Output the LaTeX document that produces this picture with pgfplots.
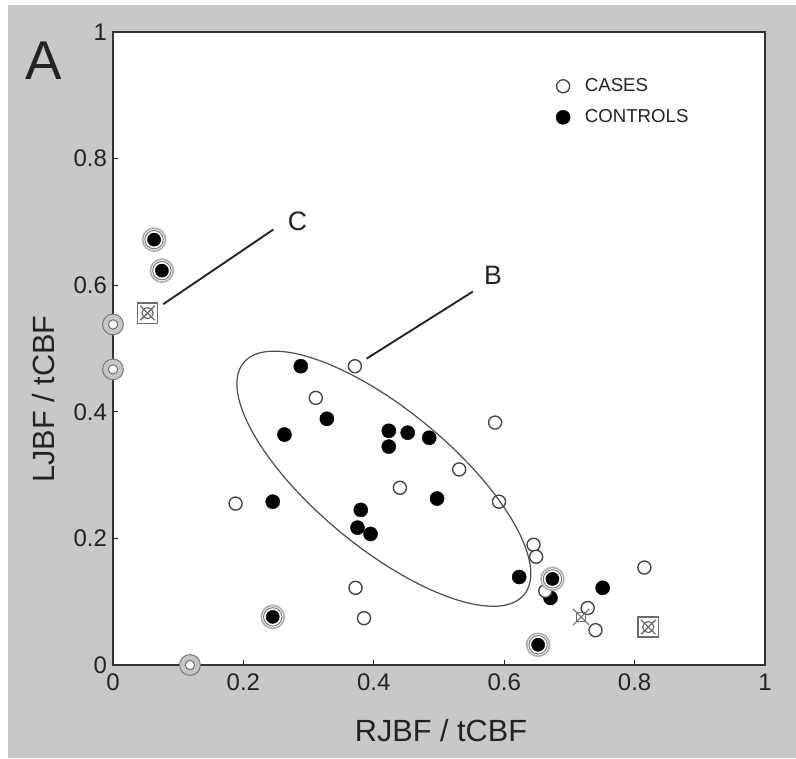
\documentclass[border=0pt]{standalone}
\usepackage{fontspec}
\setmainfont{Liberation Sans}
\usepackage{pgfplots}
\pgfplotsset{compat=1.18}
\usepackage{pgfplotstable}

\definecolor{panelgray}{RGB}{200,200,200}
\definecolor{ink}{RGB}{35,35,35}

% blood-flow ratios
\pgfplotstableread{
x y
0.371 0.472
0.311 0.422
0.188 0.255
0.586 0.383
0.531 0.309
0.440 0.280
0.592 0.258
0.645 0.190
0.649 0.171
0.372 0.122
0.385 0.074
0.815 0.154
0.663 0.117
0.728 0.090
0.740 0.055
}\cases
\pgfplotstableread{
x y
0.000 0.538
0.000 0.467
0.118 0.000
}\casesmarked
\pgfplotstableread{
x y
0.288 0.472
0.328 0.389
0.263 0.364
0.423 0.370
0.452 0.367
0.485 0.359
0.423 0.345
0.245 0.258
0.497 0.263
0.380 0.245
0.375 0.217
0.395 0.207
0.623 0.139
0.671 0.106
0.751 0.122
}\controls
\pgfplotstableread{
x y
0.063 0.672
0.075 0.623
0.245 0.076
0.674 0.136
0.652 0.032
}\controlsmarked
\pgfplotstableread{
x y
0.053 0.556
0.821 0.060
}\crossed
\pgfplotstableread{
x y
0.718 0.076
}\xcross

\begin{document}
\begin{tikzpicture}
% panel background
\fill[white] (-84.75pt,-69.75pt) rectangle (512.25pt,498.75pt);
\fill[panelgray] (-78.75pt,-69.75pt) rectangle (512.25pt,495pt);
\begin{axis}[
  at={(0,0)}, anchor=south west,
  scale only axis, width=489pt, height=474.75pt,
  xmin=0, xmax=1, ymin=0, ymax=1,
  xtick={0,0.2,0.4,0.6,0.8,1}, ytick={0,0.2,0.4,0.6,0.8,1},
  tick pos=left, tick align=inside,
  major tick length=4pt,
  tick style={line width=1pt, ink},
  axis line style={line width=1.6pt, black!80},
  axis background/.style={fill=white},
  /pgf/number format/assume math mode=true,
  ticklabel style={font=\fontsize{18}{20}\selectfont, text=ink},
  xticklabel style={yshift=-3pt},
  yticklabel style={xshift=-1pt},
  xlabel={RJBF / tCBF}, ylabel={LJBF / tCBF},
  xlabel style={at={(axis cs:0.503,-0.103)}, anchor=center, font=\fontsize{23}{26}\selectfont, text=ink},
  ylabel style={at={(axis cs:-0.106,0.42)}, anchor=center, font=\fontsize{23}{26}\selectfont, text=ink},
  clip=false,
  legend style={draw=none, fill=none, at={(axis cs:0.673,0.935)}, anchor=north west,
    font=\fontsize{14}{16}\selectfont, text=ink, row sep=8pt, column sep=9pt},
  legend cell align=left,
  reverse legend,
]
\addplot[only marks, mark=*, mark size=5.3pt, mark options={draw=black, fill=black, line width=0.3pt}]
  table {\controls};
\addlegendentry{CONTROLS}
\addplot[only marks, mark=*, mark size=4.9pt, mark options={draw=black!75, fill=white, line width=1pt}]
  table {\cases};
\addlegendentry{CASES}

% highlighted controls: black dot in a grey double ring
\addplot[forget plot, only marks, mark=*, mark size=8.6pt, mark options={draw=gray!65, fill=white, line width=1.2pt}]
  table {\controlsmarked};
\addplot[forget plot, only marks, mark=o, mark size=6.9pt, mark options={draw=black!55, line width=0.7pt}]
  table {\controlsmarked};
\addplot[forget plot, only marks, mark=*, mark size=4.9pt, mark options={draw=black, fill=black}]
  table {\controlsmarked};

% highlighted cases: white dot in a thick grey ring
\addplot[forget plot, only marks, mark=*, mark size=7.8pt, mark options={draw=black!55, fill=gray!45, line width=0.7pt}]
  table {\casesmarked};
\addplot[forget plot, only marks, mark=*, mark size=3.5pt, mark options={draw=black!60, fill=white, line width=0.7pt}]
  table {\casesmarked};

% crossed squares
\addplot[forget plot, only marks, mark=square, mark size=7.6pt, mark options={draw=gray!85!black, line width=1pt}]
  table {\crossed};
\addplot[forget plot, only marks, mark=x, mark size=7.6pt, mark options={draw=gray!85!black, line width=1pt}]
  table {\crossed};
\addplot[forget plot, only marks, mark=o, mark size=4.2pt, mark options={draw=gray!85!black, line width=0.9pt}]
  table {\crossed};

% single cross near (0.72, 0.08)
\addplot[forget plot, only marks, mark=x, mark size=8.6pt, mark options={draw=gray!85!black, line width=0.8pt}]
  table {\xcross};
\addplot[forget plot, only marks, mark=square, mark size=3.6pt, mark options={draw=gray!85!black, line width=0.7pt}]
  table {\xcross};

% pointer lines and labels
\draw[line width=1.4pt, ink] (axis cs:0.389,0.484) -- (axis cs:0.552,0.590);
\draw[line width=1.4pt, ink] (axis cs:0.077,0.570) -- (axis cs:0.246,0.688);
\node[font=\fontsize{20}{22}\selectfont, text=ink] at (axis cs:0.583,0.616) {B};
\node[font=\fontsize{20}{22}\selectfont, text=ink] at (axis cs:0.283,0.701) {C};
\node[font=\fontsize{41}{44}\selectfont, text=ink] at (axis cs:-0.106,0.954) {A};

\coordinate (ec) at (axis cs:0.4154,0.2943);
\end{axis}
\begin{scope}[shift={(ec)}, rotate=-39.6]
\draw[black!70, line width=0.9pt] (0,0) ellipse [x radius=136.5pt, y radius=51.6pt];
\end{scope}
\end{tikzpicture}
\end{document}
